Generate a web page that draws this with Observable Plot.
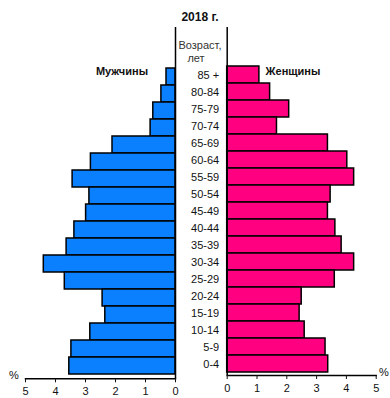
<!DOCTYPE html>
<html>
<head>
<meta charset="utf-8">
<script src="https://cdn.jsdelivr.net/npm/d3@7"></script>
<script src="https://cdn.jsdelivr.net/npm/@observablehq/plot@0.6"></script>
<style>
  body { margin: 0; background: #fff; }
  #wrap { position: relative; width: 390px; height: 398px; font-family: "Liberation Sans", Arial, sans-serif; }
  #wrap svg { position: absolute; left: 0; top: 0; }
  .lbl { position: absolute; transform: translate(-50%, -50%); white-space: nowrap; color: #111; }
</style>
</head>
<body>
<div id="wrap">
  <div class="lbl" style="left:200px; top:17px; font-weight:bold; font-size:12px;">2018 г.</div>
  <div class="lbl" style="left:200px; top:45px; font-size:11px; color:#333;">Возраст,</div>
  <div class="lbl" style="left:196px; top:58px; font-size:11px; color:#333;">лет</div>
  <div class="lbl" style="left:122px; top:71px; font-weight:bold; font-size:11px;">Мужчины</div>
  <div class="lbl" style="left:293px; top:71px; font-weight:bold; font-size:11px;">Женщины</div>
  <div class="lbl" style="left:14px; top:375px; font-size:11px;">%</div>
  <div class="lbl" style="left:384px; top:372px; font-size:11px;">%</div>
</div>
<script>
const ages = ["85 +","80-84","75-79","70-74","65-69","60-64","55-59","50-54","45-49","40-44","35-39","30-34","25-29","20-24","15-19","10-14","5-9","0-4"];
const male = [0.3,0.47,0.74,0.83,2.1,2.82,3.43,2.87,2.98,3.37,3.63,4.39,3.69,2.43,2.34,2.84,3.47,3.54];
const female = [1.08,1.44,2.08,1.67,3.38,4.03,4.26,3.47,3.38,3.63,3.84,4.26,3.61,2.50,2.43,2.60,3.30,3.39];
const xTicks = [0,1,2,3,4,5];

const rows = ages.map((a, i) => ({age: a, male: male[i], female: female[i]}));
const style = {fontFamily: '"Liberation Sans", Arial, sans-serif', fontSize: "11px", color: "#111", background: "transparent", overflow: "visible"};

const left = Plot.plot({
  width: 390, height: 398, marginTop: 27, marginBottom: 19.7, style,
  marginLeft: 25, marginRight: 215,
  x: {domain: [0, 5], reverse: true, label: null},
  y: {domain: ages, range: [62.7, 378.3], padding: 0, axis: null},
  marks: [
    Plot.barX(rows, {x: "male", y: "age", fill: "#0a80ff", stroke: "#000", strokeWidth: 1.5}),
    Plot.ruleX([0], {stroke: "#000", strokeWidth: 1.5}),
    Plot.frame({anchor: "bottom", stroke: "#000", strokeWidth: 1.5}),
    Plot.axisX({ticks: xTicks, tickFormat: "d", tickSize: 4, tickPadding: 4, label: null, fontSize: 11})
  ]
});

const right = Plot.plot({
  width: 390, height: 398, marginTop: 27, marginBottom: 23, style,
  marginLeft: 226.7, marginRight: 14.3,
  x: {domain: [0, 5], label: null},
  y: {domain: ages, range: [62, 375], padding: 0},
  marks: [
    Plot.barX(rows, {x: "female", y: "age", fill: "#ff0080", stroke: "#000", strokeWidth: 1.5}),
    Plot.ruleX([0], {stroke: "#000", strokeWidth: 1.5}),
    Plot.frame({anchor: "bottom", stroke: "#000", strokeWidth: 1.5}),
    Plot.axisX({ticks: xTicks, tickFormat: "d", tickSize: 4, tickPadding: 5, label: null, fontSize: 11}),
    Plot.axisY({anchor: "left", tickSize: 0, tickPadding: 8, label: null, fontSize: 11})
  ]
});

const wrap = document.getElementById("wrap");
wrap.insertBefore(right, wrap.firstChild);
wrap.insertBefore(left, wrap.firstChild);
</script>
</body>
</html>
